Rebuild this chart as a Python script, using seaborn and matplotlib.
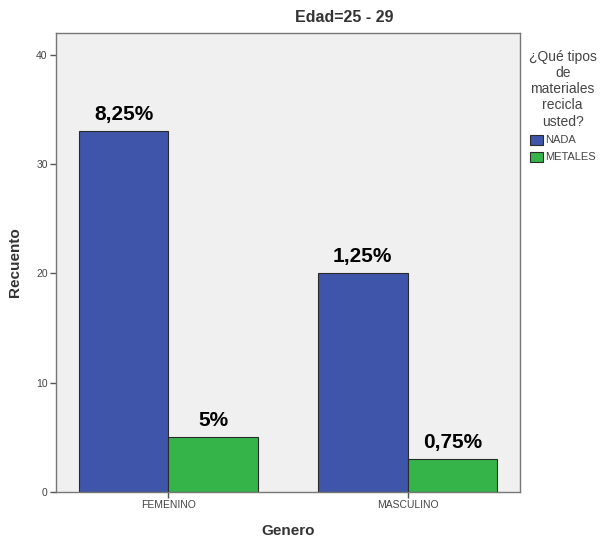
import matplotlib
matplotlib.use("Agg")
import matplotlib.pyplot as plt
import seaborn as sns
import pandas as pd

# data
generos = ["FEMENINO", "MASCULINO"]
materiales = ["NADA", "METALES"]
nada = [33, 20]
metales = [5, 3]
etiquetas_nada = ["8,25%", "1,25%"]
etiquetas_metales = ["5%", "0,75%"]

df = pd.DataFrame({
    "Genero": generos * 2,
    "Material": [materiales[0]] * 2 + [materiales[1]] * 2,
    "Recuento": nada + metales,
})

sns.set_style("white")
plt.rcParams["font.family"] = ["Liberation Sans", "DejaVu Sans"]

fig = plt.figure(figsize=(6, 5.42), dpi=100)
ax = fig.add_axes([56 / 600, 1 - 492 / 542, (520 - 56) / 600, (492 - 33) / 542])
ax.set_facecolor("#f0f0f0")

paleta = {"NADA": "#3e55aa", "METALES": "#35b44a"}
sns.barplot(data=df, x="Genero", y="Recuento", hue="Material", order=generos,
            hue_order=materiales, palette=paleta, width=0.75, saturation=1,
            edgecolor="#2a2a2a", linewidth=0.8, ax=ax)

ax.set_xlim(-0.47, 1.47)
ax.set_ylim(0, 42)
ax.set_yticks([0, 10, 20, 30, 40])
ax.tick_params(axis="both", direction="out", length=4, width=1, color="#555555",
               labelsize=7.5, labelcolor="#444444", pad=2, left=True, bottom=True)
for s in ax.spines.values():
    s.set_color("#777777")
    s.set_linewidth(1)

ax.set_xlabel("Genero", fontsize=11, fontweight="bold", color="#333333", labelpad=10)
ax.set_ylabel("Recuento", fontsize=11, fontweight="bold", color="#333333", labelpad=10)

for cont, labs in zip(ax.containers, [etiquetas_nada, etiquetas_metales]):
    ax.bar_label(cont, labels=labs, padding=5, fontsize=15, fontweight="bold", color="black")

fig.text(344 / 600, 1 - 17 / 542, "Edad=25 - 29", ha="center", va="center",
         fontsize=11.5, fontweight="bold", color="#333333")

sns.move_legend(ax, loc="upper left", bbox_to_anchor=(521 / 600, 1 - 42 / 542),
                bbox_transform=fig.transFigure, frameon=False,
                title="¿Qué tipos\nde\nmateriales\nrecicla\nusted?",
                fontsize=8, title_fontsize=10, alignment="center",
                handlelength=1.2, handleheight=1.0, handletextpad=0.2,
                labelspacing=0.55, borderpad=0.2)
leg = ax.get_legend()
leg.get_title().set_multialignment("center")
leg.get_title().set_color("#444444")
for t in leg.get_texts():
    t.set_color("#444444")

fig.savefig("out.png", dpi=100, facecolor="white")
